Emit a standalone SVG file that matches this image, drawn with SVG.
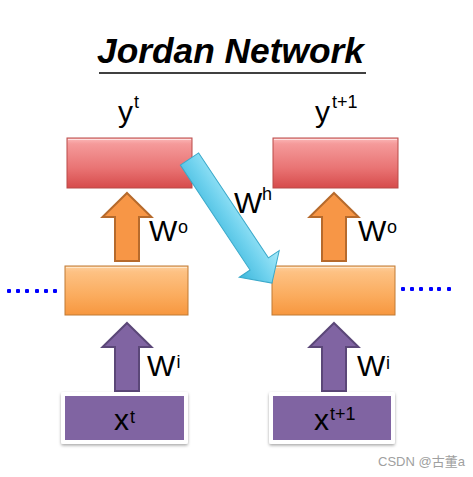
<svg xmlns="http://www.w3.org/2000/svg" width="473" height="477" viewBox="0 0 473 477">
<style>
.lbl{font-family:"Liberation Sans",Arial,sans-serif;fill:#000;font-size:30px}
.sup{font-size:18px}
.title{font-family:"Liberation Sans",Arial,sans-serif;font-weight:bold;font-style:italic;font-size:35px;fill:#000}
.red{fill:url(#gRed);stroke:#b94a48;stroke-width:1}
.org{fill:url(#gOrg);stroke:#c07a35;stroke-width:1}
.oarr{fill:#f79646;stroke:#b66a2c;stroke-width:2}
.parr{fill:#8064a2;stroke:#5b4778;stroke-width:2}
.pframe{fill:#ffffff;filter:url(#sh)}
.pbox{fill:#8064a2}
.dot{fill:#0000ff}
.wm{font-family:"Liberation Sans","Noto Sans CJK SC",sans-serif;font-size:13px;fill:#a0a0a0}
</style>
<defs>
<linearGradient id="gRed" x1="0" y1="0" x2="0" y2="1">
<stop offset="0" stop-color="#fbb9b9"/>
<stop offset="0.12" stop-color="#f59a9a"/>
<stop offset="0.6" stop-color="#e97474"/>
<stop offset="1" stop-color="#d64b4b"/>
</linearGradient>
<linearGradient id="gOrg" x1="0" y1="0" x2="0" y2="1">
<stop offset="0" stop-color="#fed1a0"/>
<stop offset="0.12" stop-color="#fdc183"/>
<stop offset="0.6" stop-color="#fbac5e"/>
<stop offset="1" stop-color="#f7973f"/>
</linearGradient>
<linearGradient id="gCyan" x1="0" y1="0" x2="0" y2="1">
<stop offset="0" stop-color="#a9eafa"/>
<stop offset="0.5" stop-color="#70d2ee"/>
<stop offset="1" stop-color="#3eb8dc"/>
</linearGradient>
<filter id="sh" x="-10%" y="-10%" width="130%" height="140%">
<feDropShadow dx="0" dy="1.5" stdDeviation="1.5" flood-color="#000" flood-opacity="0.35"/>
</filter>
<path id="blk" d="M0,0 L24.5,24 L12,24 L12,68 L-12,68 L-12,24 L-24.5,24 Z"/>
</defs>

<g id="title">
<text class="title" x="97" y="63" textLength="267" lengthAdjust="spacingAndGlyphs">Jordan Network</text>
<line x1="99" y1="73" x2="366" y2="73" stroke="#000" stroke-width="1.3"/>
</g>

<g id="connectors">
<use href="#blk" class="oarr" transform="translate(127,193)"/>
<use href="#blk" class="oarr" transform="translate(334,193)"/>
<use href="#blk" class="parr" transform="translate(127,323)"/>
<use href="#blk" class="parr" transform="translate(334,323)"/>
<g id="dots-left">
<rect class="dot" x="7" y="289" width="4" height="4" rx="1"/>
<rect class="dot" x="16" y="289" width="4" height="4" rx="1"/>
<rect class="dot" x="25" y="289" width="4" height="4" rx="1"/>
<rect class="dot" x="35" y="289" width="4" height="4" rx="1"/>
<rect class="dot" x="44" y="289" width="4" height="4" rx="1"/>
<rect class="dot" x="53" y="289" width="4" height="4" rx="1"/>
</g>
<g id="dots-right">
<rect class="dot" x="401" y="287" width="4" height="4" rx="1"/>
<rect class="dot" x="410" y="287" width="4" height="4" rx="1"/>
<rect class="dot" x="419" y="287" width="4" height="4" rx="1"/>
<rect class="dot" x="429" y="287" width="4" height="4" rx="1"/>
<rect class="dot" x="437" y="287" width="4" height="4" rx="1"/>
<rect class="dot" x="447" y="287" width="4" height="4" rx="1"/>
</g>
<text class="lbl" x="149" y="241">W<tspan class="sup" x="178" y="233">o</tspan></text>
<text class="lbl" x="358" y="241">W<tspan class="sup" x="387" y="233">o</tspan></text>
<text class="lbl" x="147" y="376">W<tspan class="sup" x="176.5" y="368">i</tspan></text>
<text class="lbl" x="357" y="376">W<tspan class="sup" x="386" y="369">i</tspan></text>
<text class="lbl" x="234" y="213">W<tspan class="sup" x="262" y="200">h</tspan></text>
</g>

<g id="node-y-t">
<rect class="red" x="67" y="138" width="125" height="50"/>
<line x1="68" y1="139.5" x2="191" y2="139.5" stroke="#fde0e0" stroke-width="1.2"/>
<text class="lbl" x="118" y="122">y<tspan class="sup" x="134" y="108">t</tspan></text>
</g>

<g id="node-y-t1">
<rect class="red" x="273" y="138" width="125" height="50"/>
<line x1="274" y1="139.5" x2="397" y2="139.5" stroke="#fde0e0" stroke-width="1.2"/>
<text class="lbl" x="315" y="122">y<tspan class="sup" x="332" y="108">t+1</tspan></text>
</g>

<g id="node-h-t">
<rect class="org" x="65" y="266" width="123" height="49"/>
<line x1="66" y1="267.5" x2="187" y2="267.5" stroke="#ffe6c8" stroke-width="1.2"/>
</g>

<g id="node-h-t1">
<rect class="org" x="272" y="266" width="123" height="49"/>
<line x1="273" y1="267.5" x2="394" y2="267.5" stroke="#ffe6c8" stroke-width="1.2"/>
</g>

<g id="node-x-t">
<rect class="pframe" x="61" y="392" width="127" height="52" rx="2"/>
<rect class="pbox" x="65" y="396" width="119" height="44"/>
<text class="lbl" x="114" y="430">x<tspan class="sup" x="130" y="423">t</tspan></text>
</g>

<g id="node-x-t1">
<rect class="pframe" x="269" y="392" width="126" height="52" rx="2"/>
<rect class="pbox" x="273" y="396" width="118" height="44"/>
<text class="lbl" x="314" y="430">x<tspan class="sup" x="330" y="420">t+1</tspan></text>
</g>

<g id="wh-arrow">
<g transform="translate(189.5,159) rotate(56.4)">
<polygon points="0,-11 126,-11 126,-24 149,0 126,24 126,11 0,11" fill="url(#gCyan)" stroke="#3aa9ca" stroke-width="1"/>
</g>
</g>

<text class="wm" x="378" y="466">CSDN @古董a</text>
</svg>
